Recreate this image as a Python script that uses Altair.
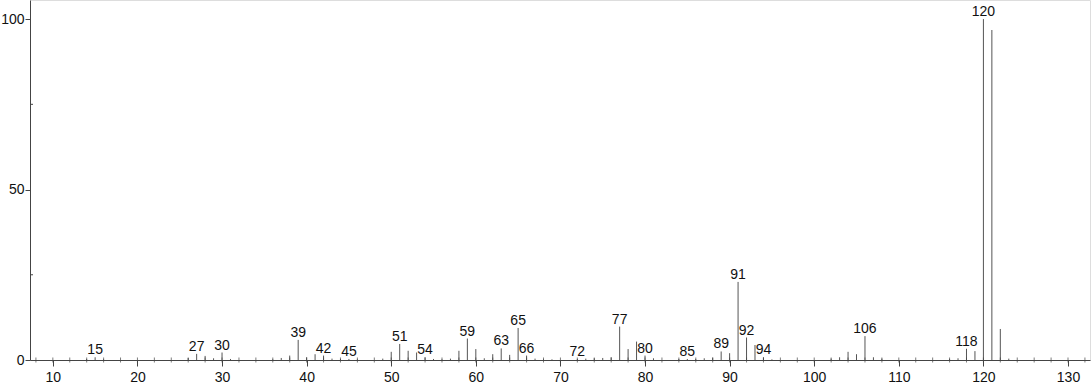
import altair as alt
import pandas as pd

# m/z values and relative intensities
mz = [14, 15, 16, 26, 27, 28, 29, 30, 31, 36, 37, 38, 39, 40, 41, 42, 43, 44, 45, 46,
      49, 50, 51, 52, 53, 54, 55, 56, 57, 58, 59, 60, 61, 62, 63, 64, 65, 66, 67, 68,
      69, 72, 73, 74, 75, 76, 77, 78, 79, 80, 81, 84, 85, 86, 87, 88, 89, 90, 91, 92,
      93, 94, 95, 102, 103, 104, 105, 106, 107, 108, 116, 117, 118, 119, 120, 121, 122, 123]
intensity = [0.3, 0.8, 0.2, 0.6, 1.8, 1.2, 0.5, 2.2, 0.3, 0.2, 0.6, 1.3, 5.9, 0.8, 1.7, 1.3, 0.4, 0.3, 0.3, 0.2,
             0.4, 2.4, 4.7, 2.7, 2.2, 0.8, 0.3, 0.2, 0.4, 2.7, 6.3, 3.2, 0.5, 1.7, 3.4, 1.5, 9.4, 1.3, 0.4, 0.2,
             0.2, 0.3, 0.4, 0.5, 0.6, 0.8, 9.8, 3.2, 5.4, 1.3, 0.5, 0.3, 0.3, 0.3, 0.5, 0.7, 2.5, 2.0, 22.9, 6.6,
             4.4, 0.8, 0.2, 0.4, 0.8, 2.4, 1.7, 7.0, 0.8, 0.4, 0.3, 0.5, 3.3, 2.6, 100.0, 96.8, 9.1, 0.4]
labelled = [15, 27, 30, 39, 42, 45, 51, 54, 59, 63, 65, 66, 72, 77, 80, 85, 89, 91, 92, 94, 106, 118, 120]

x_major = [10, 20, 30, 40, 50, 60, 70, 80, 90, 100, 110, 120, 130]
x_minor = list(range(8, 133, 2))
y_major = [0, 50, 100]
y_minor = [25, 75]

peaks = pd.DataFrame({"mz": mz, "intensity": intensity})
peaks["label"] = [str(m) if m in labelled else "" for m in mz]
labels = peaks[peaks["label"] != ""]
minor_x = pd.DataFrame({"v": x_minor, "zero": [0] * len(x_minor)})
minor_y = pd.DataFrame({"v": y_minor})

FONT = "Liberation Sans"
AX = "#444444"
TXT = "#111111"

xs = alt.Scale(domain=[7.3, 132.6], nice=False, zero=False)
ys = alt.Scale(domain=[0, 105.6], nice=False)

xaxis = alt.Axis(values=x_major, tickSize=6, tickColor=AX, domainColor=AX, grid=False,
                 labelFont=FONT, labelFontSize=14, labelColor=TXT, labelPadding=4,
                 labelFlush=False)
yaxis = alt.Axis(values=y_major, tickSize=5, tickColor=AX, domainColor=AX, grid=False,
                 labelFont=FONT, labelFontSize=14, labelColor=TXT, labelPadding=1)

bars = alt.Chart(peaks).mark_rule(color="#555555", strokeWidth=1).encode(
    x=alt.X("mz:Q", scale=xs, axis=xaxis, title=None),
    y=alt.Y("intensity:Q", scale=ys, axis=yaxis, title=None),
    y2=alt.datum(0),
)

text = alt.Chart(labels).mark_text(font=FONT, fontSize=14, color=TXT,
                                   baseline="alphabetic", dy=-3).encode(
    x="mz:Q", y="intensity:Q", text="label:N"
)

mticks = alt.Chart(minor_x).mark_tick(orient="vertical", size=5, thickness=1, color=AX).encode(
    x="v:Q", y="zero:Q"
)

yticks = alt.Chart(minor_y).mark_rule(color=AX, strokeWidth=1).encode(
    y="v:Q", x=alt.value(0), x2=alt.value(3)
)

chart = alt.layer(bars, mticks, yticks, text).properties(
    width=1060, height=360,
    autosize=alt.AutoSizeParams(type="none"),
    padding={"left": 30, "top": 0, "right": 2, "bottom": 24},
).configure_view(stroke=None).configure(background="white")

chart.save("out.html", embed_options={"renderer": "svg", "actions": False})
